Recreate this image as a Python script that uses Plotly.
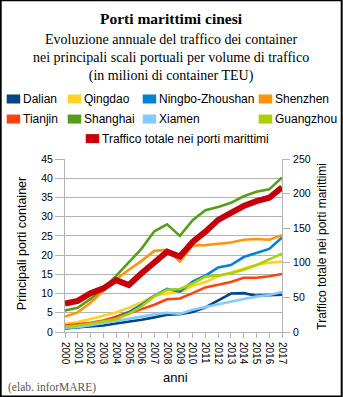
import plotly.graph_objects as go

# Container traffic, millions of TEU
years = list(range(2000, 2018))
dalian = [1.0, 1.2, 1.35, 1.67, 2.2, 2.65, 3.2, 3.8, 4.5, 4.6, 5.2, 6.4, 8.1, 10.0, 10.1, 9.45, 9.6, 9.7]
qingdao = [2.1, 2.6, 3.4, 4.2, 5.1, 6.3, 7.7, 9.5, 10.0, 10.3, 12.0, 13.0, 14.5, 15.5, 16.6, 17.5, 18.0, 18.3]
ningbo = [0.9, 1.2, 1.9, 2.8, 4.0, 5.2, 7.1, 9.4, 11.2, 10.5, 13.1, 14.7, 16.8, 17.4, 19.5, 20.6, 21.6, 24.6]
shenzhen = [4.0, 5.1, 7.6, 10.7, 13.7, 16.2, 18.5, 21.1, 21.4, 18.3, 22.5, 22.6, 22.9, 23.3, 24.0, 24.2, 24.0, 25.2]
tianjin = [1.7, 2.0, 2.4, 3.0, 3.8, 4.8, 5.95, 7.1, 8.5, 8.7, 10.1, 11.6, 12.3, 13.0, 14.1, 14.1, 14.5, 15.1]
shanghai = [5.6, 6.3, 8.6, 11.3, 14.6, 18.1, 21.7, 26.2, 28.0, 25.0, 29.1, 31.7, 32.5, 33.6, 35.3, 36.5, 37.1, 40.2]
xiamen = [1.1, 1.3, 1.75, 2.3, 2.9, 3.3, 4.0, 4.6, 5.0, 4.7, 5.8, 6.5, 7.2, 8.0, 8.6, 9.2, 9.6, 10.4]
guangzhou = [1.4, 1.7, 2.2, 2.8, 3.3, 4.7, 6.6, 9.3, 11.0, 11.2, 12.6, 14.4, 14.7, 15.3, 16.2, 17.4, 18.9, 20.4]
totale = [41, 45, 56, 63, 75, 68, 85, 101, 116, 109, 130, 145, 162, 172, 182, 189, 194, 209]

ports = [
    ("Dalian", dalian, "#004586"),
    ("Qingdao", qingdao, "#ffd320"),
    ("Ningbo-Zhoushan", ningbo, "#0084d1"),
    ("Shenzhen", shenzhen, "#ff950e"),
    ("Tianjin", tianjin, "#ff420e"),
    ("Shanghai", shanghai, "#579d1c"),
    ("Xiamen", xiamen, "#83caff"),
    ("Guangzhou", guangzhou, "#aecf00"),
]
total_name = "Traffico totale nei porti marittimi"
total_color = "#c5000b"

W, H = 343, 397
L, R, T, B = 65.3, 282.3, 159.3, 331.7
PW, PH = R - L, B - T


def px(x):
    return (x - L) / PW


def py(y):
    return (B - y) / PH


SANS = "Liberation Sans"
SERIF = "Liberation Serif"

fig = go.Figure()
for name, vals, col in ports:
    fig.add_trace(go.Scatter(x=years, y=vals, name=name, mode="lines",
                             line=dict(color=col, width=2.6)))
fig.add_trace(go.Scatter(x=years, y=totale, name=total_name, mode="lines", yaxis="y2",
                         line=dict(color=total_color, width=6)))

shapes = [dict(type="rect", xref="paper", yref="paper", x0=px(1), x1=px(342), y0=py(1), y1=py(396),
               line=dict(color="black", width=2), fillcolor="rgba(0,0,0,0)", layer="above")]
annotations = []

# Legend grid: (label, color, square left x, row center y)
legend_items = [
    ("Dalian", "#004586", 7, 99.5),
    ("Qingdao", "#ffd320", 68, 99.5),
    ("Ningbo-Zhoushan", "#0084d1", 143, 99.5),
    ("Shenzhen", "#ff950e", 259, 99.5),
    ("Tianjin", "#ff420e", 7, 119.5),
    ("Shanghai", "#579d1c", 68, 119.5),
    ("Xiamen", "#83caff", 143, 119.5),
    ("Guangzhou", "#aecf00", 259, 119.5),
    (total_name, total_color, 86, 139),
]
for label, col, x0, yc in legend_items:
    shapes.append(dict(type="rect", xref="paper", yref="paper",
                       x0=px(x0), x1=px(x0 + 13.5), y0=py(yc - 4.5), y1=py(yc + 4.5),
                       line=dict(width=0), fillcolor=col))
    annotations.append(dict(text=label, xref="paper", yref="paper", x=px(x0 + 14), y=py(yc),
                            xanchor="left", yanchor="middle", showarrow=False,
                            font=dict(family=SANS, size=12, color="black")))

annotations += [
    dict(text="<b>Porti marittimi cinesi</b>", x=px(171.5), y=py(19), xref="paper", yref="paper",
         showarrow=False, xanchor="center", yanchor="middle",
         font=dict(family=SERIF, size=15.5, color="black")),
    dict(text="Evoluzione annuale del traffico dei container<br>"
              "nei principali scali portuali per volume di traffico<br>"
              "(in milioni di container TEU)",
         x=px(171.5), y=py(59), xref="paper", yref="paper", showarrow=False,
         xanchor="center", yanchor="middle", align="center",
         font=dict(family=SERIF, size=14, color="black")),
    dict(text="Principali porti container", x=px(22.5), y=py(244), xref="paper", yref="paper",
         showarrow=False, textangle=-90, xanchor="center", yanchor="middle",
         font=dict(family=SANS, size=12.5, color="black")),
    dict(text="Traffico totale nei porti marittimi", x=px(322), y=py(246), xref="paper", yref="paper",
         showarrow=False, textangle=-90, xanchor="center", yanchor="middle",
         font=dict(family=SANS, size=12, color="black")),
    dict(text="anni", x=px(176), y=py(377), xref="paper", yref="paper",
         showarrow=False, xanchor="center", yanchor="middle",
         font=dict(family=SANS, size=13, color="black")),
    dict(text="(elab. inforMARE)", x=px(6), y=py(387), xref="paper", yref="paper",
         showarrow=False, xanchor="left", yanchor="middle",
         font=dict(family=SERIF, size=11.5, color="#555555")),
]

grid = "#b3b3b3"
tickfont = dict(family=SANS, size=10.5, color="black")
fig.update_layout(
    width=W, height=H,
    margin=dict(l=L, r=W - R, t=T, b=H - B, pad=0),
    paper_bgcolor="white", plot_bgcolor="white",
    showlegend=False,
    shapes=shapes, annotations=annotations,
    xaxis=dict(range=[2000, 2017], tickmode="array", tickvals=years,
               ticktext=[str(y) for y in years], tickangle=90,
               ticks="outside", ticklen=5, tickcolor=grid, ticklabelstandoff=2,
               showgrid=False, showline=True, linecolor=grid, zeroline=False,
               tickfont=dict(family=SANS, size=10, color="black")),
    yaxis=dict(range=[0, 45], dtick=5, ticks="outside", ticklen=9, tickcolor=grid,
               ticklabelstandoff=0,
               showgrid=True, gridcolor=grid, gridwidth=1,
               showline=True, linecolor=grid, zeroline=False, tickfont=tickfont),
    yaxis2=dict(range=[0, 250], dtick=50, overlaying="y", side="right",
                ticks="outside", ticklen=7, tickcolor=grid, ticklabelstandoff=1, showgrid=False,
                showline=True, linecolor=grid, zeroline=False, tickfont=tickfont),
)

fig.write_html("out.html")
